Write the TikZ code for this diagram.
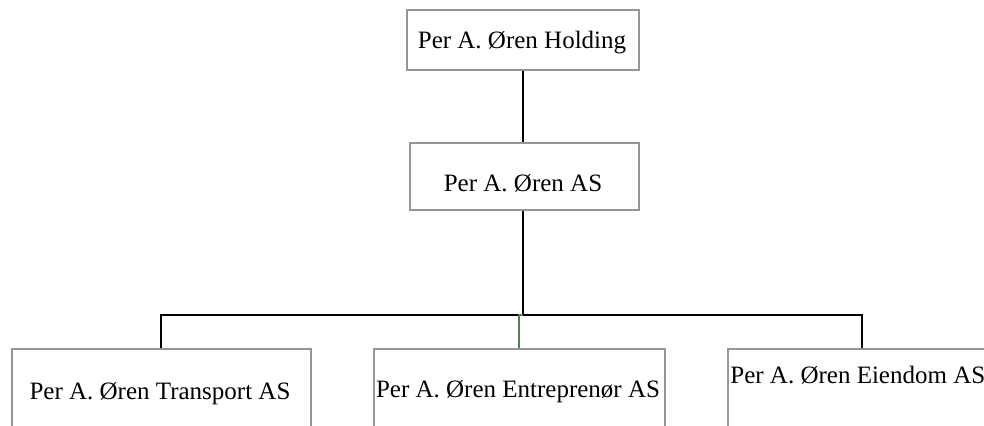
\documentclass[tikz,border=0pt]{standalone}
\usepackage{fontspec}
\setmainfont{Liberation Serif}
\begin{document}
\begin{tikzpicture}[x=0.5pt,y=-0.5pt,
  orgbox/.style={draw=boxgray,line width=0.75pt,rectangle,inner sep=0pt,anchor=north west},
  orgtext/.style={anchor=base,inner sep=0pt,font=\fontsize{12.5}{15}\selectfont},
  link/.style={draw=black,line width=1pt},
  greenlink/.style={draw=linkgreen,line width=1pt}]
\definecolor{boxgray}{RGB}{150,150,150}
\definecolor{linkgreen}{RGB}{80,130,80}
\clip (0,0) rectangle (984,425);
\fill[white] (0,0) rectangle (984,425);
% boxes
\node[orgbox,minimum width=116pt,minimum height=30pt] (top) at (406,9) {};
\node[orgbox,minimum width=114.5pt,minimum height=33.5pt] (mid) at (409,142) {};
\node[orgbox,minimum width=149.5pt,minimum height=42pt] (left) at (11,348) {};
\node[orgbox,minimum width=145.5pt,minimum height=42pt] (cen) at (373,348) {};
\node[orgbox,minimum width=134pt,minimum height=42pt] (right) at (727,348) {};
% texts
\node[orgtext] (ttop) at (522,48) {Per A. Øren Holding};
\node[orgtext] (tmid) at (523,191) {Per A. Øren AS};
\node[orgtext] (tleft) at (160,399) {Per A. Øren Transport AS};
\node[orgtext] (tcen) at (518,397) {Per A. Øren Entreprenør AS};
\node[orgtext,anchor=base west] (tright) at (730,383) {Per A. Øren Eiendom AS};
% connectors
\coordinate (bus) at (523,315);
\draw[link] (top.south -| 523,0) -- (mid.north -| 523,0);
\draw[link] (mid.south -| 523,0) -- (bus);
\draw[link] (left.north) -- (left.north |- bus) -- (right.north |- bus) -- (right.north);
\draw[greenlink] (cen.north) -- (cen.north |- bus) -- (bus);
\end{tikzpicture}
\end{document}
